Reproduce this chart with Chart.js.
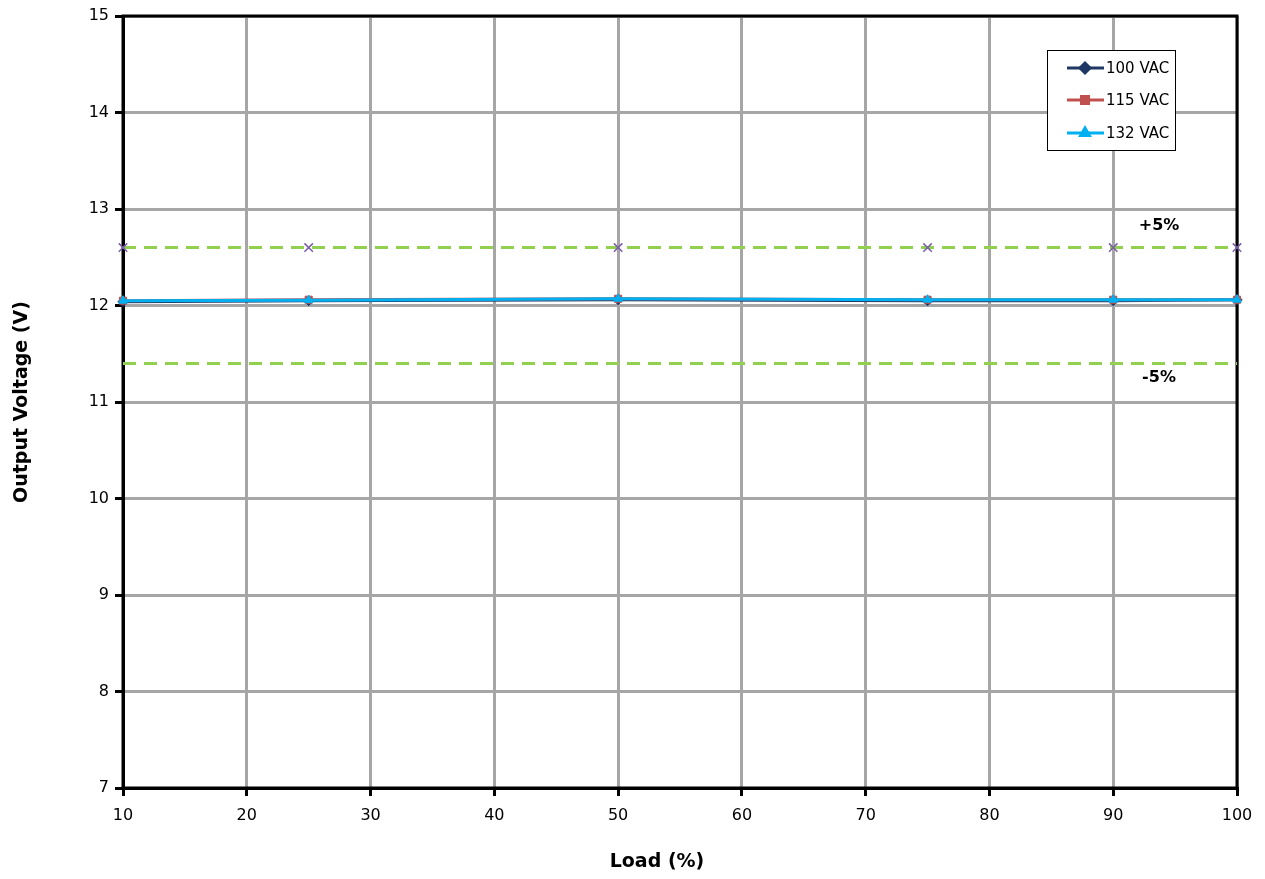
<!DOCTYPE html>
<html>
<head>
<meta charset="utf-8">
<script src="https://cdn.jsdelivr.net/npm/chart.js@4.4.1/dist/chart.umd.min.js"></script>
<style>
  html, body { margin: 0; padding: 0; background: #fff; }
  #wrap { width: 1265px; height: 879px; }
</style>
</head>
<body>
<div id="wrap"><canvas id="voltChart" width="1265" height="879"></canvas></div>
<script>
// load points (%)
var loads = [10, 25, 50, 75, 90, 100];
// output voltage per line voltage
var vac100 = [12.04, 12.05, 12.06, 12.05, 12.05, 12.06];
var vac115 = [12.05, 12.06, 12.07, 12.06, 12.06, 12.06];
var vac132 = [12.05, 12.055, 12.07, 12.06, 12.06, 12.06];
// tolerance band
var upperLimit = [12.6, 12.6, 12.6, 12.6, 12.6, 12.6];
var lowerLimit = [11.4, 11.4, 11.4, 11.4, 11.4, 11.4];
var limitLabels = ["+5%", "-5%"];
var seriesNames = ["100 VAC", "115 VAC", "132 VAC"];
var xTitle = "Load (%)";
var yTitle = "Output Voltage (V)";

var FONT = "'DejaVu Sans', Verdana, sans-serif";

function pts(ys) {
  return loads.map(function (x, i) { return { x: x, y: ys[i] }; });
}

function series(label, ys, color, style, order) {
  return {
    label: label,
    data: pts(ys),
    order: order,
    clip: false,
    borderColor: color,
    backgroundColor: color,
    borderWidth: 3,
    pointStyle: style,
    pointRadius: 5,
    pointBorderWidth: 1,
    pointBorderColor: color,
    pointBackgroundColor: color,
    tension: 0
  };
}

// black frame round the plot area
var framePlugin = {
  id: 'frame',
  beforeDatasetsDraw: function (chart) {
    var a = chart.chartArea, ctx = chart.ctx;
    ctx.save();
    ctx.strokeStyle = '#000';
    ctx.lineWidth = 3;
    ctx.strokeRect(a.left, a.top, a.right - a.left, a.bottom - a.top);
    ctx.restore();
  }
};

// axis titles, +5% / -5% labels and legend box
var notesPlugin = {
  id: 'notes',
  afterDatasetsDraw: function (chart) {
    var ctx = chart.ctx;
    var xs = chart.scales.x, ys = chart.scales.y;
    ctx.save();
    ctx.fillStyle = '#000';
    ctx.textAlign = 'center';
    ctx.textBaseline = 'middle';

    ctx.font = 'bold 19px ' + FONT;
    ctx.fillText(xTitle, 657, 862);
    ctx.save();
    ctx.translate(22, 402);
    ctx.rotate(-Math.PI / 2);
    ctx.fillText(yTitle, 0, 0);
    ctx.restore();

    ctx.font = 'bold 16px ' + FONT;
    ctx.fillText(limitLabels[0], xs.getPixelForValue(93.7), ys.getPixelForValue(12.83));
    ctx.fillText(limitLabels[1], xs.getPixelForValue(93.7), ys.getPixelForValue(11.25));

    // legend
    var bx = 1047, by = 50, bw = 128, bh = 100;
    ctx.fillStyle = '#fff';
    ctx.fillRect(bx, by, bw, bh);
    ctx.strokeStyle = '#000';
    ctx.lineWidth = 1;
    ctx.strokeRect(bx + 0.5, by + 0.5, bw, bh);
    var rows = [68, 100, 133];
    for (var i = 0; i < 3; i++) {
      var ds = chart.data.datasets[i];
      ctx.strokeStyle = ds.borderColor;
      ctx.lineWidth = 3;
      ctx.beginPath();
      ctx.moveTo(1067, rows[i]);
      ctx.lineTo(1104, rows[i]);
      ctx.stroke();
      Chart.helpers.drawPoint(ctx, {
        pointStyle: ds.pointStyle, radius: 5, borderWidth: 1, rotation: 0
      }, 1085, rows[i]);
      ctx.fillStyle = ds.borderColor;
      ctx.fill();
      ctx.fillStyle = '#000';
      ctx.font = '15px ' + FONT;
      ctx.textAlign = 'left';
      ctx.fillText(seriesNames[i], 1106, rows[i] + 1);
    }
    ctx.restore();
  }
};

var limitStyle = {
  clip: false,
  order: 3,
  borderColor: '#92d050',
  borderWidth: 3,
  borderDash: [13, 8],
  pointStyle: 'crossRot',
  pointRadius: 6,
  pointBorderWidth: 1.5,
  pointBorderColor: '#7a5ea8',
  pointBackgroundColor: '#7a5ea8'
};

var chart = new Chart(document.getElementById('voltChart'), {
  type: 'line',
  data: {
    datasets: [
      series(seriesNames[0], vac100, '#1f3864', 'rectRot', 2),
      series(seriesNames[1], vac115, '#c0504d', 'rect', 1),
      series(seriesNames[2], vac132, '#00b0f0', 'triangle', 0),
      Object.assign({ label: '+5%', data: pts(upperLimit) }, limitStyle),
      Object.assign({ label: '-5%', data: pts(lowerLimit) }, limitStyle, { pointRadius: 0 })
    ]
  },
  options: {
    responsive: false,
    animation: false,
    layout: { padding: { left: 0, right: 28, top: 16, bottom: 0 } },
    plugins: {
      legend: { display: false },
      tooltip: { enabled: false }
    },
    scales: {
      x: {
        type: 'linear',
        min: 10,
        max: 100,
        ticks: { stepSize: 10, color: '#000', font: { family: FONT, size: 16 }, padding: 10, maxRotation: 0 },
        grid: { color: '#a6a6a6', lineWidth: 3, tickColor: '#000', tickLength: 8, tickWidth: 3 },
        border: { color: '#000', width: 3 },
        afterFit: function (s) { s.height = 91; }
      },
      y: {
        min: 7,
        max: 15,
        ticks: { stepSize: 1, color: '#000', font: { family: FONT, size: 16 }, padding: 6 },
        grid: { color: '#a6a6a6', lineWidth: 3, tickColor: '#000', tickLength: 8, tickWidth: 3 },
        border: { color: '#000', width: 3 },
        afterFit: function (s) { s.width = 123; }
      }
    }
  },
  plugins: [framePlugin, notesPlugin]
});
</script>
</body>
</html>
